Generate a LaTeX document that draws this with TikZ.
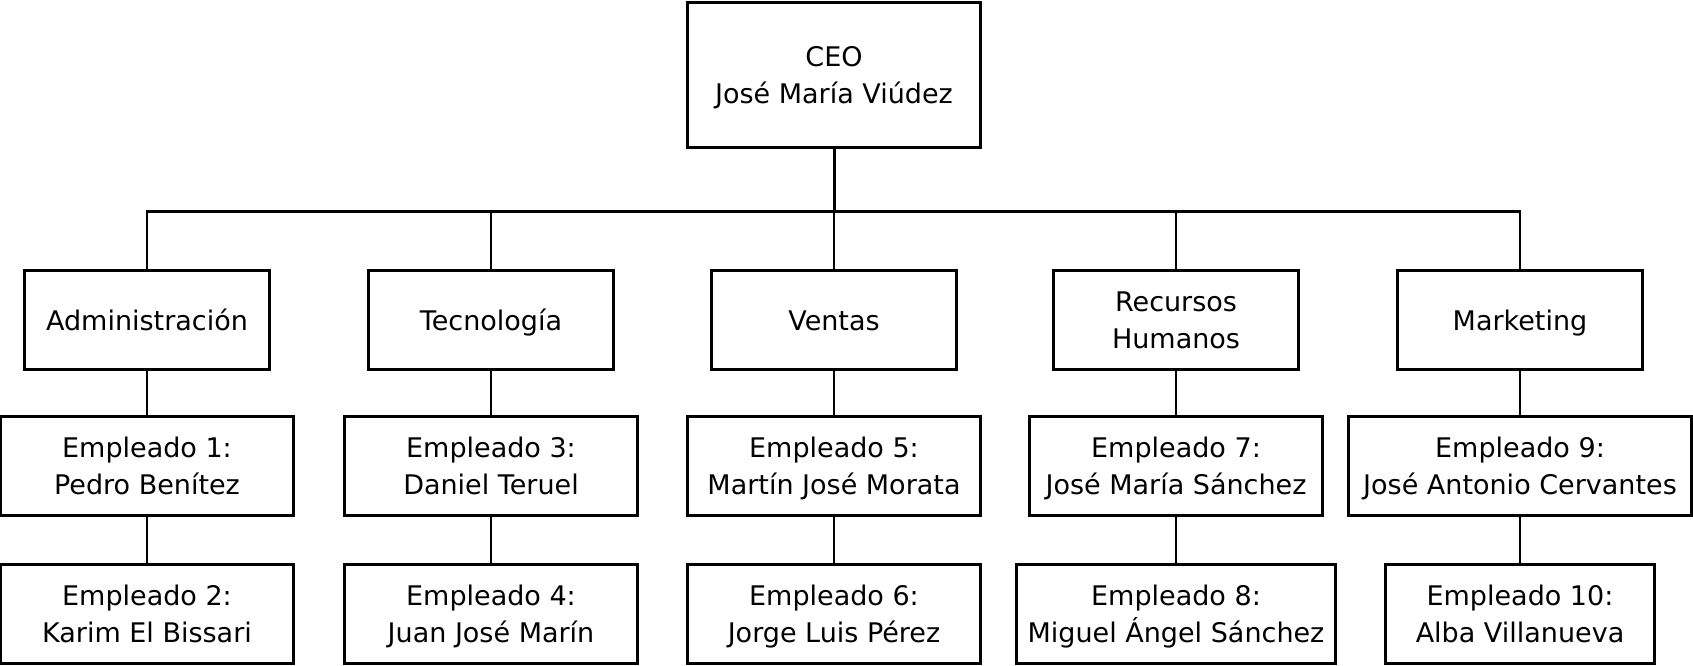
\documentclass[tikz,border=0pt]{standalone}
\usepackage{fontspec}
\setmainfont{DejaVu Sans}
\begin{document}
\begin{tikzpicture}[x=1pt,y=-1pt,
  box/.style={draw=black,line width=3pt,align=center,inner sep=0pt,minimum height=99pt,text depth=0pt,font=\fontsize{27}{36.7}\selectfont},
  one/.style={text height=20pt},
  link/.style={draw=black,line width=2.5pt}]
\useasboundingbox (0,0) rectangle (1693,665);
\node[box,minimum width=293pt,minimum height=145pt] (ceo) at (834,75) {CEO\\José María Viúdez};
\node[box,one,minimum width=245pt] (adm) at (147,320) {Administración};
\node[box,one,minimum width=245pt] (tec) at (491,320) {Tecnología};
\node[box,one,minimum width=245pt] (ven) at (834,320) {Ventas};
\node[box,minimum width=245pt] (rh) at (1176,320) {Recursos\\Humanos};
\node[box,one,minimum width=245pt] (mkt) at (1520,320) {Marketing};
\node[box,minimum width=293pt] (e1) at (147,466) {Empleado 1:\\Pedro Benítez};
\node[box,minimum width=293pt] (e3) at (491,466) {Empleado 3:\\Daniel Teruel};
\node[box,minimum width=293pt] (e5) at (834,466) {Empleado 5:\\Martín José Morata};
\node[box,minimum width=293pt] (e7) at (1176,466) {Empleado 7:\\José María Sánchez};
\node[box,minimum width=343pt] (e9) at (1520,466) {Empleado 9:\\José Antonio Cervantes};
\node[box,minimum width=293pt] (e2) at (147,614) {Empleado 2:\\Karim El Bissari};
\node[box,minimum width=293pt] (e4) at (491,614) {Empleado 4:\\Juan José Marín};
\node[box,minimum width=293pt] (e6) at (834,614) {Empleado 6:\\Jorge Luis Pérez};
\node[box,minimum width=319pt] (e8) at (1176,614) {Empleado 8:\\Miguel Ángel Sánchez};
\node[box,minimum width=269pt] (e10) at (1520,614) {Empleado 10:\\Alba Villanueva};
\coordinate (bus) at (834,211.5);
\draw[link,line width=3pt] (ceo.south) -- (bus);
\foreach \n in {adm,tec,ven,rh,mkt} {\draw[link] (\n.north) |- (bus);}
\draw[link] (adm.south) -- (e1.north);
\draw[link] (e1.south) -- (e2.north);
\draw[link] (tec.south) -- (e3.north);
\draw[link] (e3.south) -- (e4.north);
\draw[link] (ven.south) -- (e5.north);
\draw[link] (e5.south) -- (e6.north);
\draw[link] (rh.south) -- (e7.north);
\draw[link] (e7.south) -- (e8.north);
\draw[link] (mkt.south) -- (e9.north);
\draw[link] (e9.south) -- (e10.north);
\end{tikzpicture}
\end{document}
